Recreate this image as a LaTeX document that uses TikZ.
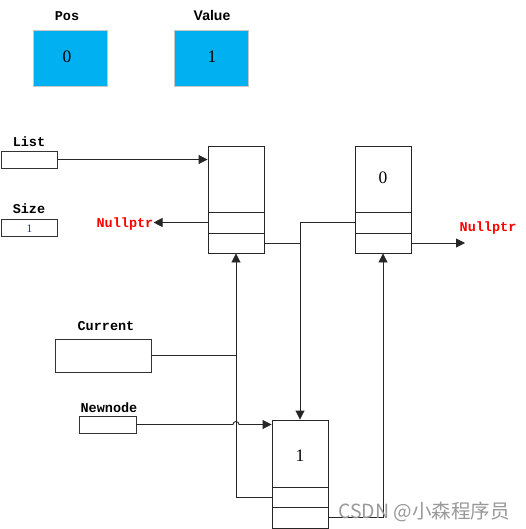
\documentclass[tikz,border=0pt]{standalone}
\usepackage{fontspec}
\usepackage{xcolor}
\usetikzlibrary{arrows.meta}
\newfontfamily\labelfont{Liberation Mono}
\newfontfamily\digitfont{Liberation Serif}
\newfontfamily\valuefont{Liberation Sans}
\newfontfamily\cjkfont{Noto Sans CJK SC}
\definecolor{tileblue}{RGB}{0,176,240}
\definecolor{nullred}{RGB}{255,0,0}
\definecolor{sizeblue}{RGB}{20,60,130}

\begin{document}
\begin{tikzpicture}[x=1pt,y=-1pt,
        tile/.style={draw=black!22, line width=0.9pt, fill=tileblue, minimum width=74pt, minimum height=56pt, inner sep=0pt},
        cell/.style={draw=black!85, line width=0.9pt, minimum width=56pt, inner sep=0pt},
        var/.style={draw=black!80, line width=0.9pt, inner sep=0pt},
        lbl/.style={font=\labelfont\bfseries\fontsize{13.5}{13.5}\selectfont, anchor=base, inner sep=0pt},
        nulllbl/.style={lbl, text=nullred},
        digit/.style={font=\digitfont\fontsize{17.5}{17.5}\selectfont, anchor=base, inner sep=0pt},
        link/.style={draw=black!85, line width=0.9pt},
        arr/.style={link, -{Triangle[length=9pt,width=9pt]}}]

            \useasboundingbox (0,0) rectangle (525,529);
            \fill[white] (0,0) rectangle (525,529);

            %% pos and value
            \node[tile] (posbox) at (70,58) {};
            \node[tile] (valuebox) at (211,58) {};
            \node[lbl] (poslbl) at (67,21) {Pos};
            \node[font=\valuefont\bfseries\fontsize{14}{14}\selectfont, anchor=base, inner sep=0pt] (valuelbl) at (212,21) {Value};
            \node[digit] (posval) at (67,63) {0};
            \node[digit] (valueval) at (212,63) {1};

            %% variables
            \node[lbl] (listlbl) at (29,147) {List};
            \node[var, minimum width=56pt, minimum height=17pt] (listbox) at (29.5,159.5) {};
            \node[lbl] (sizelbl) at (29,214) {Size};
            \node[var, minimum width=56pt, minimum height=17pt] (sizebox) at (29.5,227.5) {};
            \node[font=\digitfont\fontsize{11.5}{11.5}\selectfont, text=sizeblue, anchor=base, inner sep=0pt] (sizeval) at (29.5,232) {1};
            \node[lbl] (currlbl) at (106,330) {Current};
            \node[var, minimum width=96pt, minimum height=33pt] (currbox) at (103,355.5) {};
            \node[lbl] (newlbl) at (109,412) {Newnode};
            \node[var, minimum width=57pt, minimum height=17pt] (newbox) at (107.5,424.5) {};

            %% list nodes
            \node[cell, minimum height=66pt] (adata) at (236,179) {};
            \node[cell, minimum height=21pt] (aprev) at (236,222.5) {};
            \node[cell, minimum height=20pt] (anext) at (236,243) {};

            \node[cell, minimum height=66pt] (bdata) at (383,179) {};
            \node[cell, minimum height=21pt] (bprev) at (383,222.5) {};
            \node[cell, minimum height=20pt] (bnext) at (383,243) {};
            \node[digit] (bval) at (383,184) {0};

            \node[cell, minimum height=67pt] (cdata) at (300,453.5) {};
            \node[cell, minimum height=20pt] (cprev) at (300,497) {};
            \node[cell, minimum height=21pt] (cnext) at (300,517.5) {};
            \node[digit] (cval) at (300,461) {1};

            %% nullptr
            \node[nulllbl] (nullleft) at (125,227) {Nullptr};
            \node[nulllbl] (nullright) at (488,231) {Nullptr};
            \coordinate (bend) at (465,243);

            %% pointers
            \draw[arr] (listbox.east) -- (listbox.east -| adata.west);
            \draw[arr] (aprev.west) -- (aprev.west -| nullleft.east);
            \draw[arr] (bnext.east) -- (bend);
            \draw[arr] (bprev.west) -| (cdata.north);
            \draw[link] (anext.east) -- (anext.east -| cdata.north);
            \draw[arr] (cprev.west) -| (anext.south);
            \draw[link] (currbox.east) -- (currbox.east -| anext.south);
            \draw[arr] (cnext.east) -| (bnext.south);
            \draw[arr] (newbox.east) -- ([xshift=-3pt]newbox.east -| anext.south)
                arc[start angle=180, end angle=0, radius=3pt] -- (newbox.east -| cdata.west);

            %% mark
            \node[font=\cjkfont\fontsize{19.5}{19.5}\selectfont, text=black!40, anchor=base west, inner sep=0pt] (mark) at (338,518) {CSDN @小森程序员};

        \end{tikzpicture}
\end{document}
